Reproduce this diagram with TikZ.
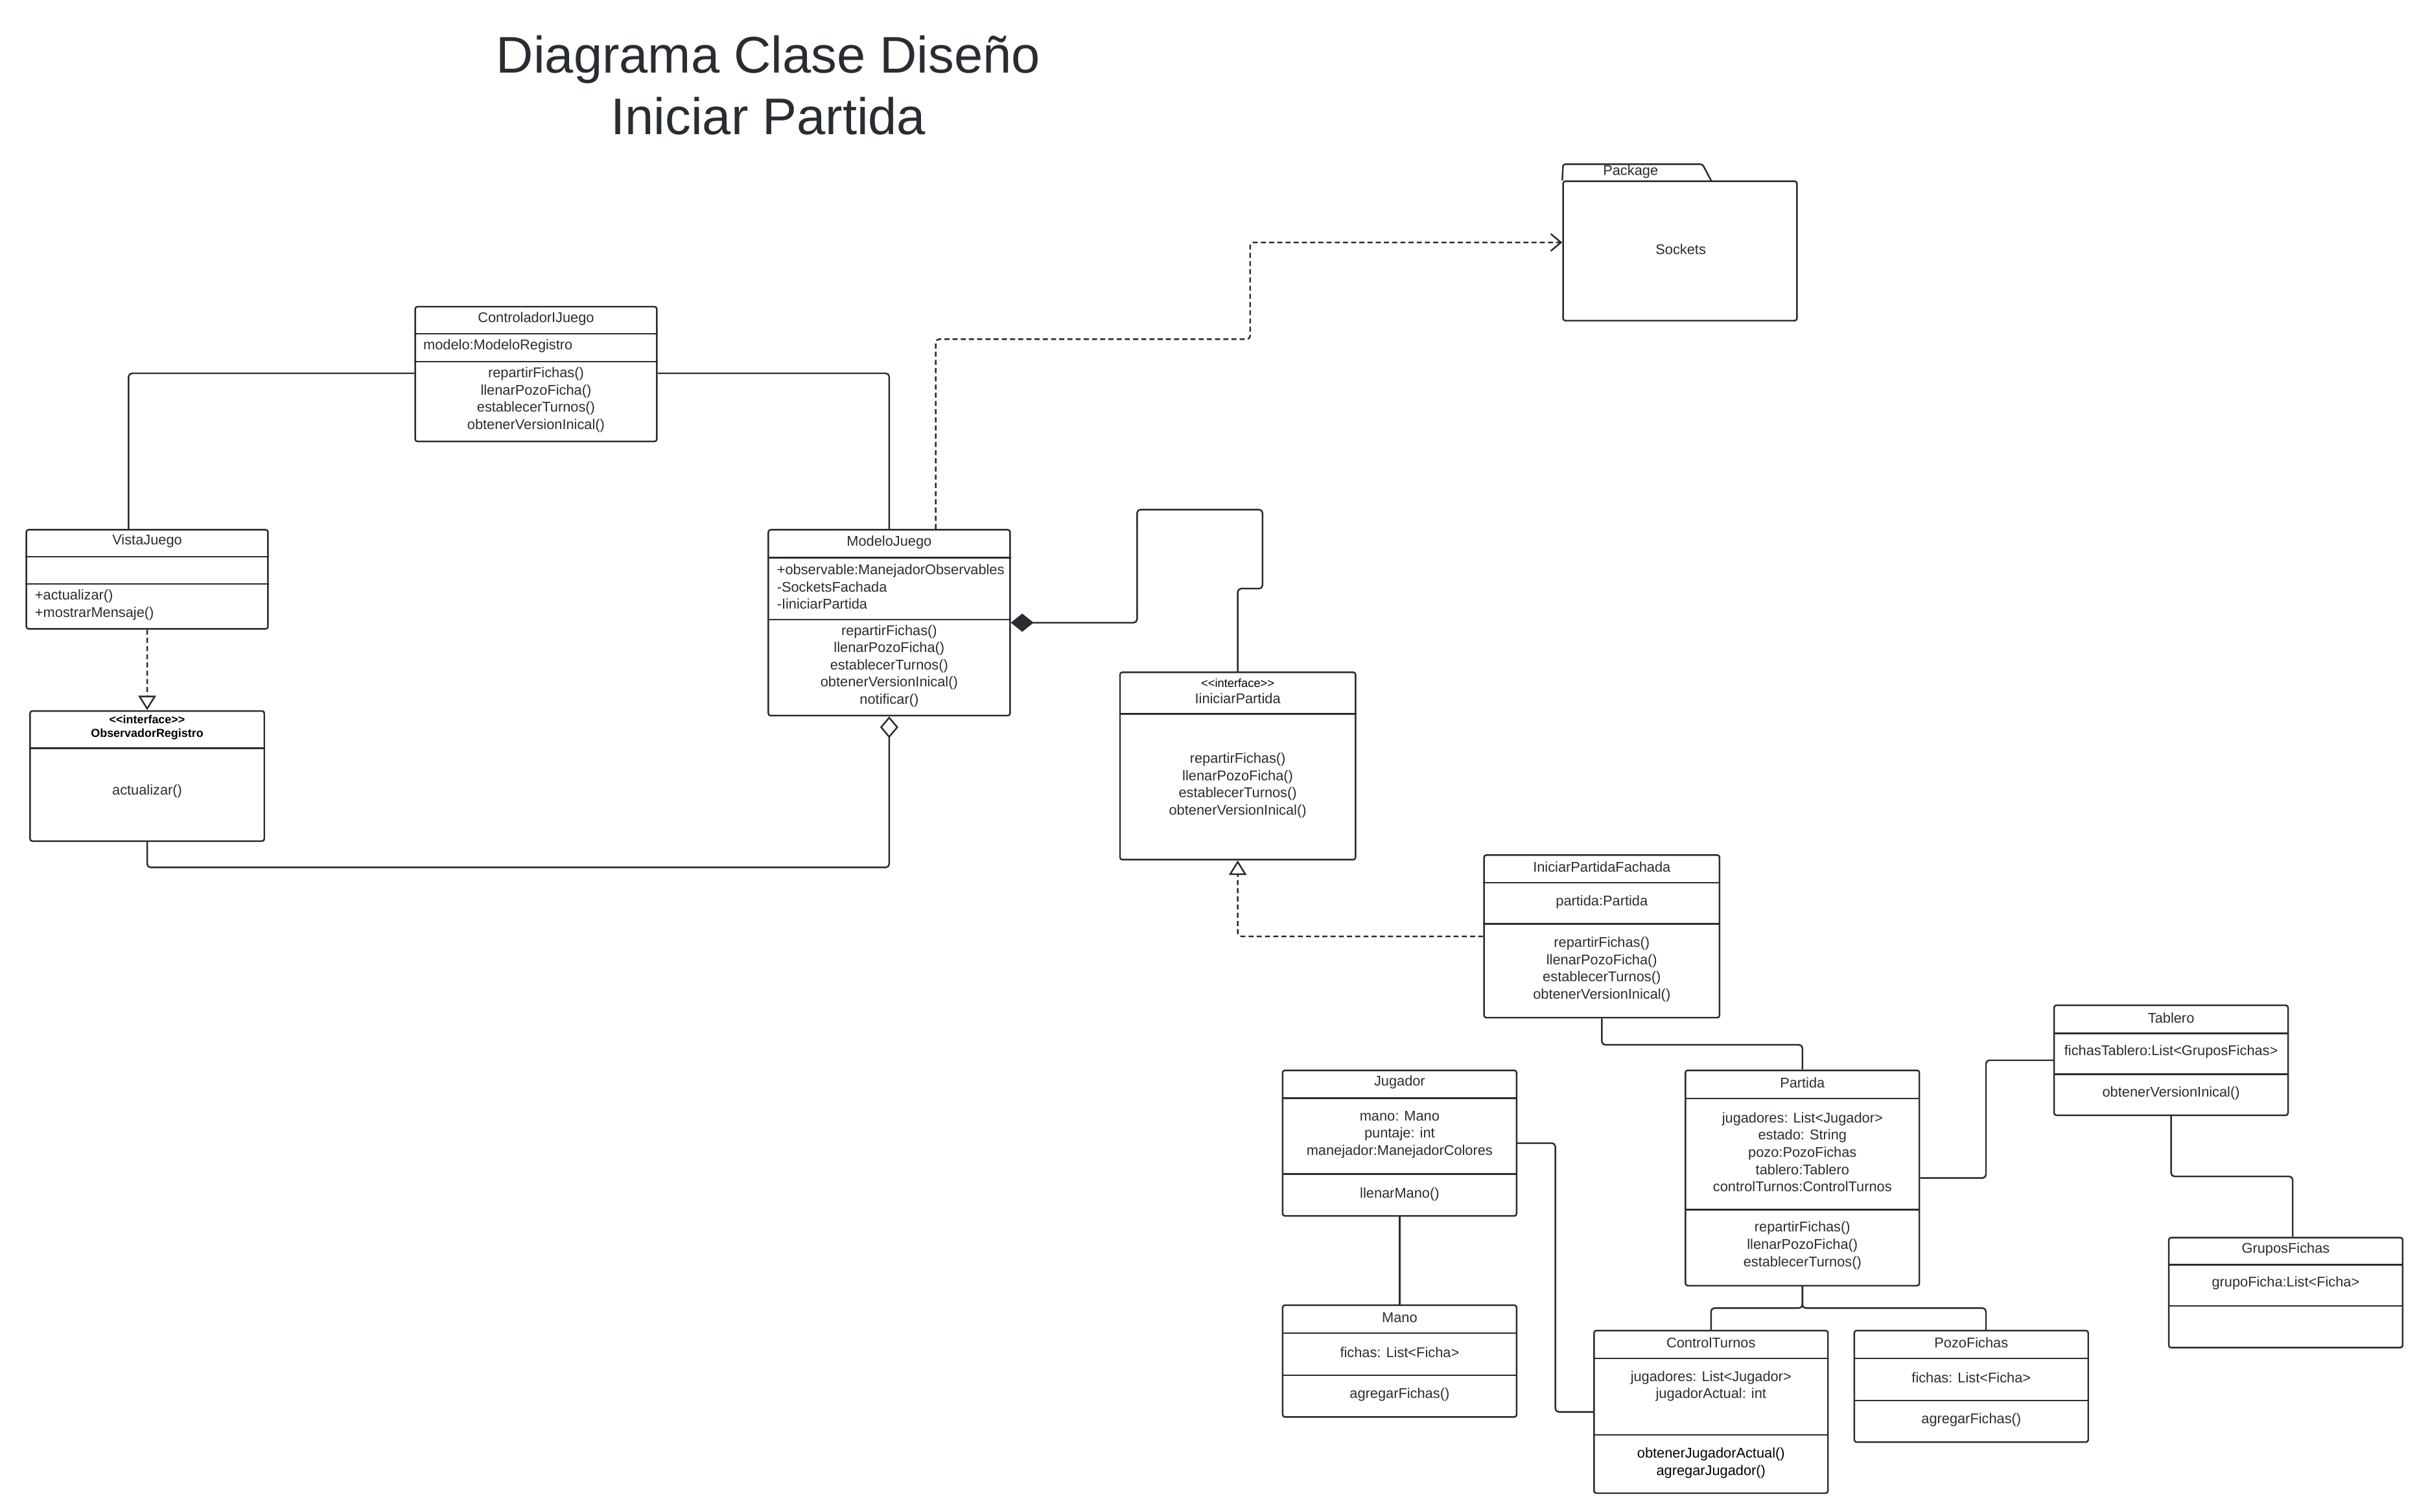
\documentclass[tikz,border=0pt]{standalone}
\usepackage{fontspec}
\setmainfont{Liberation Sans}[Ligatures=TeXOff]
\usepackage{xcolor}
\usetikzlibrary{positioning}
\usetikzlibrary{fit, arrows.meta}
\definecolor{ink}{HTML}{282C33}
\def\compart(#1,#2){\draw[cmp] (#1.west |- 0,#2) -- (#1.east |- 0,#2);}
\tikzstyle{cls} = [draw=ink, line width=0.7pt, rounded corners=1pt, inner sep=0pt]
\tikzstyle{cmp} = [draw=ink, line width=0.7pt]
\tikzstyle{txt} = [text=ink, inner sep=0pt, align=center, font=\fontsize{6.2}{7.55}\selectfont]
\tikzstyle{txtl} = [txt, align=left, anchor=west]
\tikzstyle{ttl} = [text=ink, inner sep=0pt, anchor=base, font=\fontsize{22.6}{27}\selectfont]
\tikzstyle{stereo} = [inner sep=0pt, align=center, font=\fontsize{5.2}{6}\selectfont]
\tikzstyle{link} = [draw=ink, line width=0.7pt, rounded corners=1.5pt]
\tikzstyle{dep} = [link, dash pattern=on 2.2pt off 1.4pt]
\tikzstyle{real} = [-{Triangle[open, length=6.4pt, width=7.8pt]}]
\tikzstyle{comp} = [{Diamond[length=10pt, width=8pt]}-]
\tikzstyle{aggr} = [-{Diamond[open, length=9.5pt, width=8pt]}]
\tikzstyle{uses} = [-{Straight Barb[length=4.5pt, width=7.5pt]}]

\begin{document}
\begin{tikzpicture}[x=0.0239cm, y=-0.0239cm]
    \path[use as bounding box, fill=white] (0,0) rectangle (1560.25,975.73);
    \node[ttl] (ttl1) at (496,47) {Diagrama Clase Diseño};
    \node[ttl] (ttl2) at (496,87) {Iniciar Partida};

    \node[cls, fit={(268,198) (424,285)}] (ctrl) {};
    \compart(ctrl,215.5)
    \compart(ctrl,233.5)
    \node[txt] (ctrlT) at (346,206) {ControladorIJuego};
    \node[txtl] (ctrlA) at (273,223.5) {modelo:ModeloRegistro};
    \node[txt] (ctrlM) at (346,258) {repartirFichas()\\llenarPozoFicha()\\establecerTurnos()\\obtenerVersionInical()};

    \node[cls, fit={(17,342) (173,406)}] (vista) {};
    \compart(vista,359.5)
    \compart(vista,377)
    \node[txt] (vistaT) at (95,349.5) {VistaJuego};
    \node[txtl] (vistaM) at (22.3,390.5) {+actualizar()\\+mostrarMensaje()};

    \node[cls, fit={(19.4,459) (170.6,543)}] (obs) {};
    \compart(obs,483)
    \node[stereo, font=\bfseries\fontsize{5.1}{6}\selectfont] (obsT) at (95,469.5) {<<interface>>\\ObservadorRegistro};
    \node[txt] (obsM) at (95,511) {actualizar()};

    \node[cls, fit={(496,342) (652,462)}] (modelo) {};
    \compart(modelo,360)
    \compart(modelo,400)
    \node[txt] (modeloT) at (574,350.3) {ModeloJuego};
    \node[txtl] (modeloA) at (501.3,378.8) {+observable:ManejadorObservables\\-SocketsFachada\\-IiniciarPartida};
    \node[txt] (modeloM) at (574,430) {repartirFichas()\\llenarPozoFicha()\\establecerTurnos()\\obtenerVersionInical()\\notificar()};

    \node[cls, fit={(723,434) (875,555)}] (iiniciar) {};
    \compart(iiniciar,460.8)
    \node[stereo] (iiniciarS) at (799,441) {<<interface>>};
    \node[txt] (iiniciarT) at (799,451) {IiniciarPartida};
    \node[txt] (iiniciarM) at (799,507) {repartirFichas()\\llenarPozoFicha()\\establecerTurnos()\\obtenerVersionInical()};

    \node[cls, fit={(1009,117) (1160,207)}] (pkg) {};
    \draw[cmp, rounded corners=1pt] (pkg.north west) -- (1009,106) -- (1099,106) -- (1104.8,117);
    \node[txt] (pkgT) at (1052.6,111) {Package};
    \node[txt] (pkgN) at (1085,161) {Sockets};

    \node[cls, fit={(958,552) (1110,657)}] (fachada) {};
    \compart(fachada,569.8)
    \compart(fachada,596.4)
    \node[txt] (fachadaT) at (1034,559.6) {IniciarPartidaFachada};
    \node[txt] (fachadaA) at (1034,582.4) {partida:Partida};
    \node[txt] (fachadaM) at (1034,625.8) {repartirFichas()\\llenarPozoFicha()\\establecerTurnos()\\obtenerVersionInical()};

    \node[cls, fit={(828,691) (979,785)}] (jugador) {};
    \compart(jugador,709)
    \compart(jugador,758)
    \node[txt] (jugadorT) at (903.5,698.7) {Jugador};
    \node[txt] (jugadorA) at (903.5,732.5) {mano: Mano\\puntaje: int\\manejador:ManejadorColores};
    \node[txt] (jugadorM) at (903.5,771.2) {llenarMano()};

    \node[cls, fit={(828,842.6) (979,914.8)}] (mano) {};
    \compart(mano,860.7)
    \compart(mano,887.9)
    \node[txt] (manoT) at (903.5,850.7) {Mano};
    \node[txt] (manoA) at (903.5,872.9) {fichas: List<Ficha>};
    \node[txt] (manoM) at (903.5,900.2) {agregarFichas()};

    \node[cls, fit={(1088,691) (1239,830)}] (partida) {};
    \compart(partida,709.2)
    \compart(partida,781)
    \node[txt] (partidaT) at (1163.5,699) {Partida};
    \node[txt] (partidaA) at (1163.5,743.8) {jugadores: List<Jugador>\\estado: String\\pozo:PozoFichas\\tablero:Tablero\\controlTurnos:ControlTurnos};
    \node[txt] (partidaM) at (1163.5,804.1) {repartirFichas()\\llenarPozoFicha()\\establecerTurnos()};

    \node[cls, fit={(1029,859) (1180,964)}] (cturnos) {};
    \compart(cturnos,876.9)
    \compart(cturnos,926.3)
    \node[txt] (cturnosT) at (1104.5,866.7) {ControlTurnos};
    \node[txt] (cturnosA) at (1104.5,895) {jugadores: List<Jugador>\\jugadorActual: int};
    \node[txt, text=black] (cturnosM) at (1104.5,944.4) {obtenerJugadorActual()\\agregarJugador()};

    \node[cls, fit={(1197,859) (1348,931)}] (pozo) {};
    \compart(pozo,876.9)
    \compart(pozo,904.1)
    \node[txt] (pozoT) at (1272.5,866.7) {PozoFichas};
    \node[txt] (pozoA) at (1272.5,889.3) {fichas: List<Ficha>};
    \node[txt] (pozoM) at (1272.5,916.5) {agregarFichas()};

    \node[cls, fit={(1326,649) (1477,720)}] (tablero) {};
    \compart(tablero,667.1)
    \compart(tablero,693.5)
    \node[txt] (tableroT) at (1401.5,657) {Tablero};
    \node[txt] (tableroA) at (1401.5,679.2) {fichasTablero:List<GruposFichas>};
    \node[txt] (tableroM) at (1401.5,705.9) {obtenerVersionInical()};

    \node[cls, fit={(1400,799) (1551,870)}] (grupos) {};
    \compart(grupos,816.5)
    \compart(grupos,843)
    \node[txt] (gruposT) at (1475.5,806.5) {GruposFichas};
    \node[txt] (gruposA) at (1475.5,828.5) {grupoFicha:List<Ficha>};

    \draw[link] (ctrl.west |- 0,241) -| (vista.north -| 83,0);
    \draw[link] (ctrl.east |- 0,241) -| (modelo.north);
    \draw[dep, real] (vista) -- (obs);
    \draw[link, aggr] (obs.south) |- (574,560) -- (modelo.south);
    \draw[link, comp] (modelo.east |- 0,402) -| (734,329) -| (815,380) -| (iiniciar.north);
    \draw[dep, uses] (modelo.north -| 604,0) |- (807,219) |- (pkg.west |- 0,156.5);
    \draw[dep, real] (fachada.west |- 0,604.5) -| (iiniciar.south);
    \draw[link] (fachada.south) -- ++(0,17) -| (partida.north);
    \draw[link] (jugador) -- (mano);
    \draw[link] (jugador.east |- 0,738) -| (1004,911.5) -- (cturnos.west |- 0,911.5);
    \draw[link] (partida.east |- 0,760.5) -| (1282,0 |- tablero.west) -- (tablero.west);
    \draw[link] (partida.south) -- ++(0,14) -| (cturnos.north);
    \draw[link] (partida.south) -- ++(0,14) -| (1282,0 |- pozo.north);
    \draw[link] (tablero.south) |- (1480,759.5) -- (1480,0 |- grupos.north);
\end{tikzpicture}
\end{document}
